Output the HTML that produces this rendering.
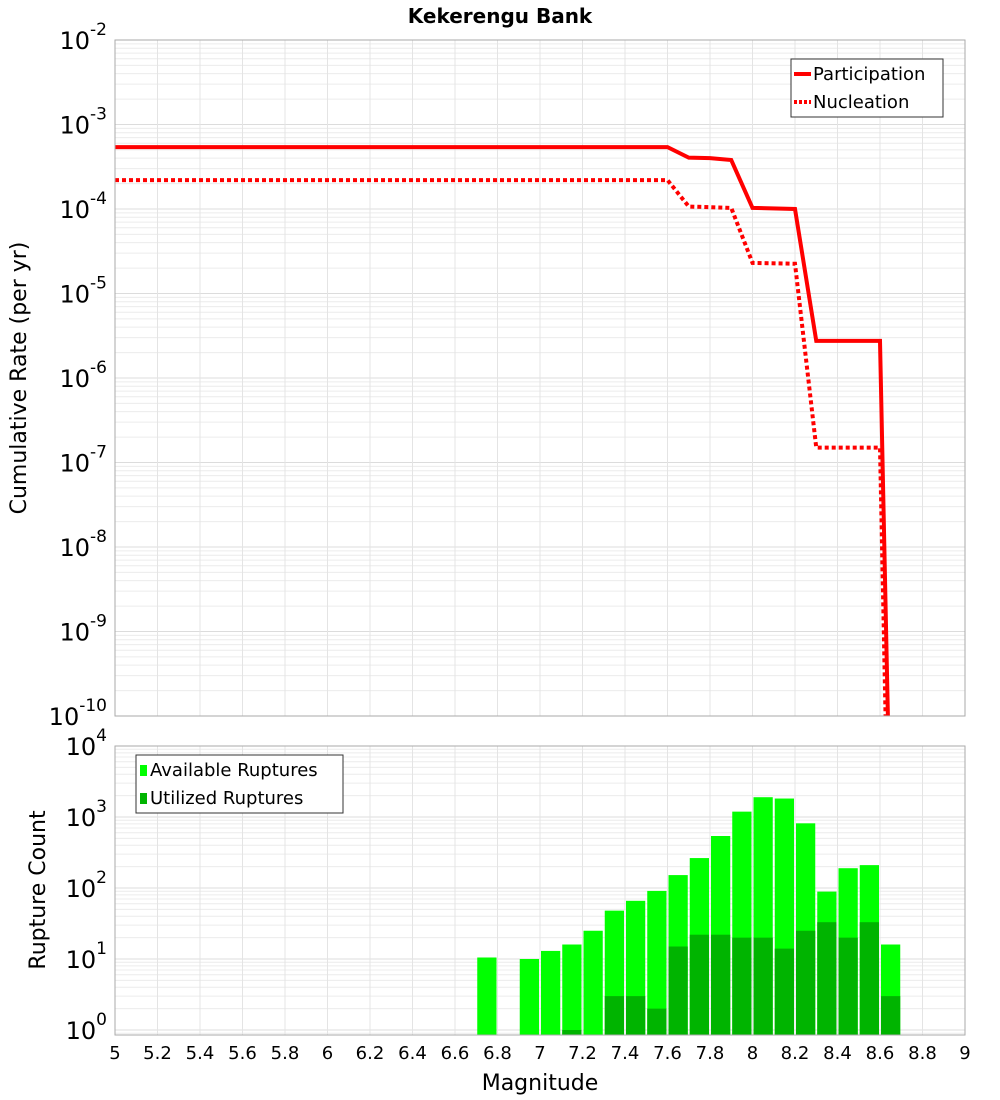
<!DOCTYPE html>
<html><head><meta charset="utf-8"><style>
body{margin:0;background:#fff;font-family:"Liberation Sans","DejaVu Sans",sans-serif}
svg{display:block}
</style></head><body>
<svg id="c" width="1000" height="1100" xmlns="http://www.w3.org/2000/svg" font-family="DejaVu Sans, Liberation Sans, sans-serif">
<text x="500" y="23" text-anchor="middle" font-size="20" font-weight="bold">Kekerengu Bank</text>
<g id="topPlot"></g>
<g id="botPlot"></g>
<text transform="translate(26,378) rotate(-90)" text-anchor="middle" font-size="22">Cumulative Rate (per yr)</text>
<text transform="translate(45,890) rotate(-90)" text-anchor="middle" font-size="22">Rupture Count</text>
<text x="540" y="1090" text-anchor="middle" font-size="22">Magnitude</text>
</svg>
<script>
const partMag=[5.0,7.6,7.7,7.8,7.9,8.0,8.2,8.3,8.6,8.7];
const partRate=[5.4e-4,5.4e-4,4.05e-4,4.0e-4,3.8e-4,1.03e-4,1.0e-4,2.75e-6,2.75e-6,3e-18];
const nuclMag=[5.0,7.6,7.7,7.8,7.9,8.0,8.2,8.3,8.6,8.7];
const nuclRate=[2.2e-4,2.2e-4,1.07e-4,1.05e-4,1.03e-4,2.3e-5,2.25e-5,1.5e-7,1.5e-7,1e-19];
const binMag=[6.75,6.95,7.05,7.15,7.25,7.35,7.45,7.55,7.65,7.75,7.85,7.95,8.05,8.15,8.25,8.35,8.45,8.55,8.65];
const available=[10.5,10,13,16,25,48,66,91,152,264,540,1190,1900,1820,815,89,190,210,16];
const utilized=[0,0,0,1,0,3,3,2,15,22,22,20,20,14,25,33,20,33,3];
const xTicks=[5,5.2,5.4,5.6,5.8,6,6.2,6.4,6.6,6.8,7,7.2,7.4,7.6,7.8,8,8.2,8.4,8.6,8.8,9];
const rateExps=[-2,-3,-4,-5,-6,-7,-8,-9,-10];
const countExps=[4,3,2,1,0];

const NS="http://www.w3.org/2000/svg";
const X0=115,X1=965;
const xs=m=>X0+(m-5)/4*(X1-X0);
const TT=40,TB=716;
const yTop=v=>TT+(-2-Math.log10(v))*(TB-TT)/8;
const BT=746,BB=1035,BDec=71;
const yBot=v=>BT+(4-Math.log10(v))*BDec;
function mk(p,tag,at){const e=document.createElementNS(NS,tag);for(const k in at)e.setAttribute(k,at[k]);p.appendChild(e);return e;}
const gTop=document.getElementById('topPlot'),gBot=document.getElementById('botPlot');

function grid(g,yT,yB,ymap,expHi,expLo){
  for(let d=expLo;d<expHi;d++)for(let k=1;k<10;k++){const y=ymap(k*Math.pow(10,d));if(y<yT||y>yB)continue;
    const l=mk(g,'line',{x1:X0,x2:X1,y1:y,y2:y,stroke:k==1?'#dcdcdc':'#ececec','stroke-width':1});
    
    }
  for(const t of xTicks){const l=mk(g,'line',{x1:xs(t),x2:xs(t),y1:yT,y2:yB,stroke:'#e4e4e4','stroke-width':1});
    
    }
}
grid(gTop,TT,TB,yTop,-2,-10);
grid(gBot,BT,BB,yBot,4,-1);

const defs=mk(document.getElementById('c'),'defs',{});
const cp=mk(defs,'clipPath',{id:'clipT'});mk(cp,'rect',{x:X0,y:TT,width:X1-X0,height:TB-TT});
function line(mags,vals,dash,name){
  let d='';mags.forEach((m,i)=>{d+=(i?'L':'M')+xs(m)+','+yTop(vals[i]);});
  const p=mk(gTop,'path',{d:d,fill:'none',stroke:'#ff0000','stroke-width':4,'clip-path':'url(#clipT)'});
  if(dash)p.setAttribute('stroke-dasharray','4,3');
  
  
}
line(nuclMag,nuclRate,true,'nucleation-line');
line(partMag,partRate,false,'participation-line');

const bw=(X1-X0)/40;
binMag.forEach((m,i)=>{
  const x=xs(m)-bw/2+1,w=bw-2;
  if(available[i]>0){const y=yBot(available[i]);const r=mk(gBot,'rect',{x:x,y:y,width:w,height:BB-y,fill:'#00ff00'});
    
    }
  if(utilized[i]>0){const y=yBot(utilized[i]);const r=mk(gBot,'rect',{x:x,y:y,width:w,height:BB-y,fill:'#00b400'});
    
    }
});

let f=mk(gTop,'rect',{x:X0,y:TT,width:X1-X0,height:TB-TT,fill:'none',stroke:'#aaa'});


f=mk(gBot,'rect',{x:X0,y:BT,width:X1-X0,height:BB-BT,fill:'none',stroke:'#aaa'});



function expLabel(g,y,e,name){
  const t=mk(g,'text',{x:107,y:y+9,'text-anchor':'end','font-size':24});
  
  
  t.textContent='10';
  const s=mk(t,'tspan',{dy:-14,'font-size':17});s.textContent=String(e);
}
rateExps.forEach(e=>expLabel(gTop,yTop(Math.pow(10,e)),e,'y-tick-label-rate'));
countExps.forEach(e=>expLabel(gBot,yBot(Math.pow(10,e)),e,'y-tick-label-count'));
xTicks.forEach(t=>{const tx=mk(gBot,'text',{x:xs(t),y:1059,'text-anchor':'middle','font-size':18});
  
  
  tx.textContent=String(t);});

function legend(g,x,y,w,h,items,name){
  const lg=mk(g,'g',{});
  
  
  mk(lg,'rect',{x:x,y:y,width:w,height:h,fill:'#fff',stroke:'#333'});
  items.forEach((it,i)=>{const cy=y+15+i*28;
    if(it.type==='line'){const l=mk(lg,'line',{x1:x+3,x2:x+20,y1:cy,y2:cy,stroke:'#f00','stroke-width':4});if(it.dash)l.setAttribute('stroke-dasharray','3,2');}
    else mk(lg,'rect',{x:x+4,y:cy-5,width:7,height:11,fill:it.color});
    const t=mk(lg,'text',{x:x+(it.type==='line'?22:14),y:cy+6,'font-size':18});
    
    
    t.textContent=it.label;});
}
legend(gTop,791,59,152,58,[{type:'line',label:'Participation'},{type:'line',dash:true,label:' Nucleation'}],'rate-legend');
legend(gBot,136,755,207,58,[{type:'rect',color:'#00ff00',label:'Available Ruptures'},{type:'rect',color:'#00b400',label:'Utilized Ruptures'}],'count-legend');
</script>
</body></html>
